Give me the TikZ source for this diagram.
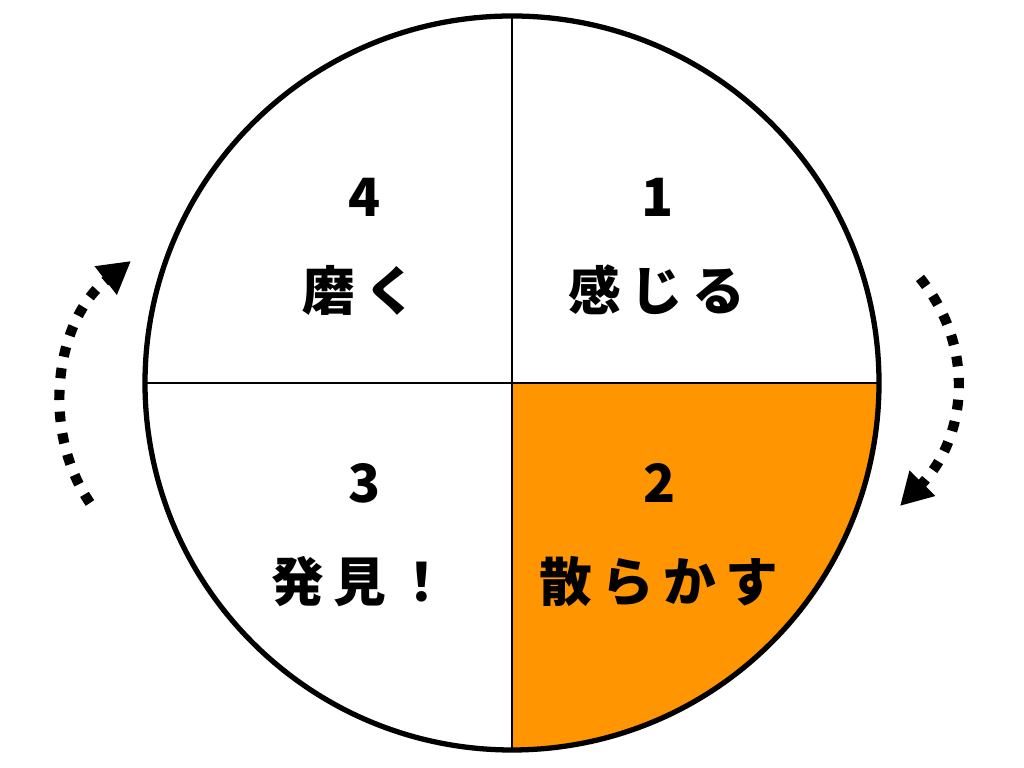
\documentclass[tikz,border=0pt]{standalone}
\usepackage{fontspec}
\setmainfont{Noto Sans CJK JP}[LetterSpace=18]
\usetikzlibrary{arrows.meta}
\definecolor{quadorange}{RGB}{255,149,0}
\tikzset{
  numlabel/.style={font=\fontsize{15pt}{18pt}\selectfont\bfseries},
  wordlabel/.style={font=\fontsize{15pt}{18pt}\selectfont\bfseries},
  cyclearrow/.style={line width=2.9pt,dash pattern=on 2.9pt off 3.3pt,-{Triangle[length=0.32cm,width=0.34cm]}}
}
\begin{document}
\begin{tikzpicture}[x=0.01cm,y=-0.01cm]
        \useasboundingbox (0,0) rectangle (1024,768);
        \coordinate (c) at (512,383);
        % quadrant 2 is highlighted
        \fill[quadorange] (c) -- (879,383) arc[start angle=0,end angle=90,radius=367] -- cycle;
        \draw[line width=0.5pt] (512,16) -- (512,750);
        \draw[line width=0.5pt] (145,383) -- (879,383);
        \draw[line width=1.5pt] (c) circle[radius=367];
        \node[numlabel] (n1) at (658,197) {1};
        \node[wordlabel] (w1) at (657,290) {感じる};
        \node[numlabel] (n2) at (660,483) {2};
        \node[wordlabel] (w2) at (659,582) {散らかす};
        \node[numlabel] (n3) at (365,483) {3};
        \node[wordlabel] (w3) at (360,582) {発見！};
        \node[numlabel] (n4) at (365,197) {4};
        \node[wordlabel] (w4) at (360,290) {磨く};
        % turning arrows
        \coordinate (r0) at (920,278);
        \coordinate (r1) at (900,506);
        \draw[cyclearrow] (r0) .. controls (978,350) and (965,440) .. (r1);
        \coordinate (l0) at (90,503);
        \coordinate (l1) at (131,261);
        \draw[cyclearrow] (l0) .. controls (40,430) and (55,320) .. (l1);
\end{tikzpicture}
\end{document}
